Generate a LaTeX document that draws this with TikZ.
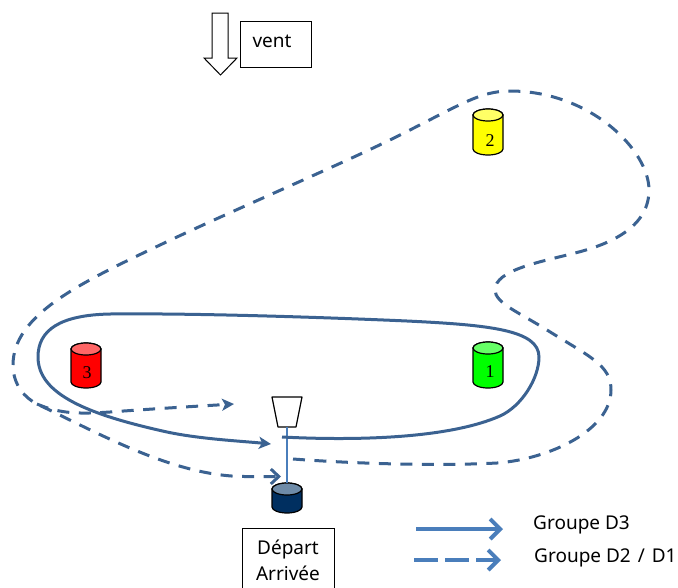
\documentclass[tikz,border=0pt]{standalone}
\usepackage{fontspec}
\setmainfont{Noto Sans}
\newfontfamily\numfont{Liberation Serif}
\usetikzlibrary{arrows.meta}
\definecolor{curve}{HTML}{3B6291}
\definecolor{legend}{HTML}{4A7EBB}
\definecolor{navybody}{HTML}{002F60}
\definecolor{navytop}{HTML}{6E8BA8}
\definecolor{redtop}{HTML}{FF6666}
\definecolor{greentop}{HTML}{66FF66}
\definecolor{yellowtop}{HTML}{FFFF66}
\definecolor{redbody}{HTML}{FF0000}
\definecolor{greenbody}{HTML}{00FF00}
\definecolor{yellowbody}{HTML}{FFFF00}
\tikzset{
  x=1pt,y=-1pt,
  outline/.style={draw=black,line width=1.2pt,line join=round},
  drumlabel/.style={font=\numfont\fontsize{18}{18}\selectfont,inner sep=0pt},
  labelbox/.style={draw=black,line width=1pt,fill=white,inner sep=0pt},
  txt/.style={font=\fontsize{19}{26}\selectfont,inner sep=0pt},
  route/.style={draw=curve,line width=3pt,line join=round},
  routedash/.style={route,dash pattern=on 12pt off 9.5pt},
  keyline/.style={draw=legend,line width=4pt,-{Straight Barb[length=10pt,width=20pt,line width=4pt]}},
  tip/.style={-{Stealth[length=12pt,width=12pt,inset=3pt]}},
  opentip/.style={-{Straight Barb[length=8pt,width=15pt,line width=3pt]}},
}
% name, centre x, top y, bottom y, body colour, top colour
\newcommand\drumshape[6]{%
  \path[outline,fill=#5] ({#2-15},{#3+6}) -- ({#2-15},{#4-6})
    arc[x radius=15pt,y radius=6pt,start angle=180,end angle=360]
    -- ({#2+15},{#3+6}) arc[x radius=15pt,y radius=6pt,start angle=0,end angle=180] -- cycle;
  \path[outline,fill=#6] (#2,{#3+6}) ellipse[x radius=15pt,y radius=6pt];
  \coordinate (#1) at (#2,#3);
}
\begin{document}
\begin{tikzpicture}
\useasboundingbox (0,0) rectangle (678,587);

% wind
\node[labelbox,minimum width=71pt,minimum height=46pt] (ventbox) at (275.5,44) {};
\node[txt] (venttext) at (272,41.5) {vent};
\path[draw=black,line width=1pt,line join=miter,fill=white]
  (212,13) -- (228,13) -- (228,58) -- (237,58) -- (220.5,75) -- (204,58) -- (212,58) -- cycle;

% gate and start line
\coordinate (gatefoot) at (287,427);
\path[outline,fill=white] (272,397) -- (302,397) -- (296,427) -- (278,427) -- cycle;
\drumshape{start}{287}{483}{513}{navybody}{navytop}
\draw[draw=legend,line width=1.6pt] (gatefoot) -- (start);

% solid lap
\coordinate (solidstart) at (282,437);
\coordinate (solidend) at (271,444);
\draw[route,tip] (solidstart)
  .. controls (360,441) and (450,438) .. (500,416)
  .. controls (522,406) and (539,378) .. (539,357)
  .. controls (539,330) and (490,325) .. (407,321)
  .. controls (340,318) and (200,313) .. (110,314)
  .. controls (60,315) and (38,330) .. (38,357)
  .. controls (38,395) and (90,415) .. (167,432)
  .. controls (200,439) and (240,441) .. (solidend);

% dashed lap
\coordinate (dashstart) at (293,459);
\coordinate (dashend) at (281,476.5);
\coordinate (branch) at (37,404);
\coordinate (branchend) at (234,404);
\draw[routedash,opentip] (dashstart)
  .. controls (360,464) and (440,466) .. (497,463)
  .. controls (550,459) and (611,430) .. (611,390)
  .. controls (611,365) and (590,357) .. (547,330)
  .. controls (520,313) and (495,303) .. (495,290)
  .. controls (495,270) and (540,262) .. (575,253)
  .. controls (615,243) and (649,225) .. (649,190)
  .. controls (649,150) and (590,91) .. (510,91)
  .. controls (480,91) and (460,105) .. (400,135)
  .. controls (340,165) and (240,207) .. (160,245)
  .. controls (80,283) and (13,315) .. (13,365)
  .. controls (13,385) and (25,398) .. (branch)
  .. controls (100,434) and (175,476.5) .. (245,476.5)
  -- (dashend);
\draw[routedash,tip] (branch)
  .. controls (60,414) and (80,414) .. (110,412)
  .. controls (150,409) and (200,406) .. (branchend);

% buoys
\drumshape{three}{86}{343}{388}{redbody}{redtop}
\node[drumlabel] (threetext) at (87,373) {3};
\drumshape{one}{488}{342}{388}{greenbody}{greentop}
\node[drumlabel] (onetext) at (490,372) {1};
\drumshape{two}{488}{109}{155}{yellowbody}{yellowtop}
\node[drumlabel] (twotext) at (490,141) {2};

\node[labelbox,minimum width=92pt,minimum height=70pt,anchor=north] (depart) at (288,528) {};
\node[txt,align=center,anchor=north] (departtext) at (288,540) {Départ\\Arrivée};

% legend
\coordinate (ka) at (416,529);
\coordinate (kb) at (503,529);
\coordinate (kc) at (414,560);
\coordinate (kd) at (501,560);
\draw[keyline] (ka) -- (kb);
\draw[keyline,dash pattern=on 24pt off 7pt] (kc) -- (kd);
\node[txt,anchor=west] (g3) at (533,524.5) {Groupe D3};
\node[txt,anchor=west] (g2) at (534,558) {Groupe D2\hspace{2pt} / \hspace{2pt}D1};
\end{tikzpicture}
\end{document}
